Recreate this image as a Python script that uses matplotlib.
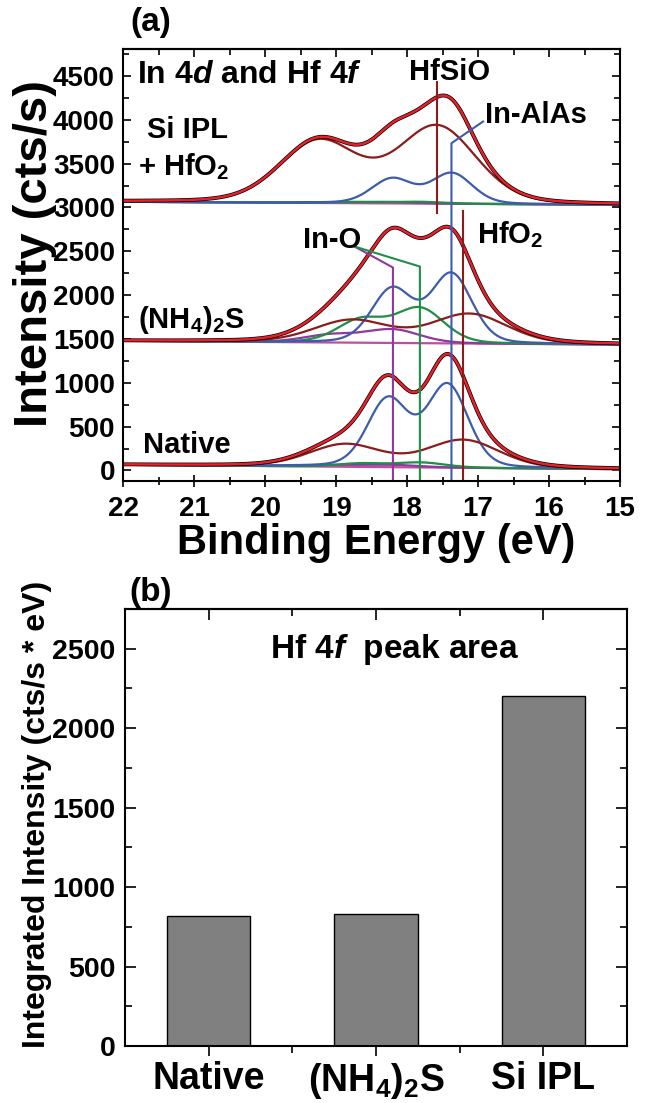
import numpy as np
import matplotlib.pyplot as plt

plt.rcParams['font.family'] = ['Liberation Sans', 'DejaVu Sans']
plt.rcParams['font.weight'] = 'bold'
plt.rcParams['axes.labelweight'] = 'bold'
plt.rcParams['mathtext.fontset'] = 'custom'
plt.rcParams['mathtext.rm'] = 'Liberation Sans:bold'
plt.rcParams['mathtext.it'] = 'Liberation Sans:bold:italic'
plt.rcParams['mathtext.bf'] = 'Liberation Sans:bold'
plt.rcParams['mathtext.default'] = 'rm'
plt.rcParams['axes.linewidth'] = 1.5

# ---------------------------------------------------------
# (a) In 4d / Hf 4f spectra
# ---------------------------------------------------------

# background level at 22 eV and at 15 eV
bkg_native = [65, 15]
bkg_nh4s = [1478, 1435]
bkg_sipl = [3065, 3030]

# fitted doublets: (binding energy eV, height above background, FWHM eV)
native_inalas = [(17.43, 935, 0.68), (18.27, 770, 0.68)]
native_ino_1 = [(18.20, 25, 0.9), (19.05, 18, 0.9)]
native_ino_2 = [(17.80, 55, 0.8), (18.64, 40, 0.8)]
native_hf = [(17.21, 315, 1.2), (18.87, 255, 1.2)]

nh4s_inalas = [(17.375, 785, 0.68), (18.21, 610, 0.68)]
nh4s_ino_1 = [(18.20, 150, 0.9), (19.07, 85, 0.9)]
nh4s_ino_2 = [(17.82, 390, 0.8), (18.64, 260, 0.8)]
nh4s_hf = [(17.12, 335, 1.25), (18.78, 255, 1.25)]

sipl_inalas = [(17.37, 345, 0.68), (18.21, 280, 0.68)]
sipl_ino_1 = [(18.20, 15, 0.9), (19.05, 10, 0.9)]
sipl_ino_2 = [(17.80, 20, 0.8), (18.64, 15, 0.8)]
sipl_hf = [(17.58, 875, 1.3), (19.24, 700, 1.3)]

# ---------------------------------------------------------
# (b) Hf 4f peak area
# ---------------------------------------------------------
samples = ['Native', '(NH$_4$)$_2$S', 'Si IPL']
hf_area = [815, 832, 2200]

# colours
c_red = '#e8202a'
c_dred = '#8a1c1c'
c_blue = '#3d5cad'
c_green = '#1f8f45'
c_purple = '#8c3a9c'
c_bkg = '#c04d9e'

be = np.linspace(15, 22, 701)


def doublet(peaks):
    y = np.zeros_like(be)
    for pos, h, fwhm in peaks:
        s = fwhm / 2.3548
        g = np.exp(-(be - pos) ** 2 / (2 * s ** 2))
        lor = 1 / (1 + ((be - pos) / (fwhm / 2)) ** 2)
        y += h * (0.8 * g + 0.2 * lor)
    return y


spectra = [
    (bkg_native, [native_ino_1, native_ino_2, native_inalas, native_hf]),
    (bkg_nh4s, [nh4s_ino_1, nh4s_ino_2, nh4s_inalas, nh4s_hf]),
    (bkg_sipl, [sipl_ino_1, sipl_ino_2, sipl_inalas, sipl_hf]),
]
comp_colors = [c_purple, c_green, c_blue, c_dred]

fig = plt.figure(figsize=(6.52, 11.03), dpi=100)
ax = fig.add_axes([0.1891, 0.5639, 0.7618, 0.3919])

for bkg, comps in spectra:
    base = np.interp(be, [15, 22], [bkg[1], bkg[0]])
    total = base.copy()
    ax.plot(be, base, color=c_bkg, lw=1.6)
    for peaks, col in zip(comps, comp_colors):
        y = doublet(peaks)
        total += y
        ax.plot(be, base + y, color=col, lw=1.6)
    ax.plot(be, total, color='black', lw=2.8)
    ax.plot(be, total, color=c_red, lw=1.8)

ymin, ymax = -120, 4810

# marker lines for the component positions
ax.plot([sipl_hf[0][0]] * 2, [4436, 2935], color=c_dred, lw=1.5)
ax.plot([16.93, nh4s_inalas[0][0], nh4s_inalas[0][0]], [3980, 3733, ymin],
        color=c_blue, lw=1.5)
ax.plot([native_hf[0][0]] * 2, [2961, ymin], color=c_dred, lw=1.5)
ax.plot([18.74, nh4s_ino_1[0][0], nh4s_ino_1[0][0]], [2554, 2315, ymin],
        color=c_purple, lw=1.5)
ax.plot([18.74, nh4s_ino_2[0][0], nh4s_ino_2[0][0]], [2554, 2326, ymin],
        color=c_green, lw=1.5)

fs = 21
ax.text(21.81, 4424, r'In 4$\mathit{d}$ and Hf 4$\mathit{f}$', fontsize=23, ha='left', va='baseline')
ax.text(21.09, 3790, 'Si IPL', fontsize=fs, ha='center', va='baseline')
ax.text(21.15, 3372, '+ HfO$_2$', fontsize=fs, ha='center', va='baseline')
ax.text(21.79, 1624, '(NH$_4$)$_2$S', fontsize=fs, ha='left', va='baseline')
ax.text(21.72, 198, 'Native', fontsize=fs, ha='left', va='baseline')
ax.text(17.40, 4455, 'HfSiO', fontsize=fs, ha='center', va='baseline')
ax.text(16.90, 3961, 'In-AlAs', fontsize=fs, ha='left', va='baseline')
ax.text(17.02, 2593, 'HfO$_2$', fontsize=fs, ha='left', va='baseline')
ax.text(18.64, 2536, 'In-O', fontsize=fs, ha='right', va='baseline')

ax.set_xlim(22, 15)
ax.set_ylim(ymin, ymax)
ax.set_xticks(np.arange(15, 23, 1))
ax.set_xticks(np.arange(15, 22.5, 0.5), minor=True)
ax.set_yticks(np.arange(0, 5000, 500))
ax.set_yticks(np.arange(0, 4800, 250), minor=True)
ax.tick_params(axis='x', which='both', direction='inout', labelsize=20, pad=6)
ax.tick_params(axis='x', which='major', length=9, width=1.2)
ax.tick_params(axis='x', which='minor', length=6, width=1.2)
ax.tick_params(axis='y', which='both', direction='in', right=True, labelsize=20, pad=6)
ax.tick_params(axis='y', which='major', length=6, width=1.2)
ax.tick_params(axis='y', which='minor', length=4, width=1.2)
top = ax.secondary_xaxis('top')
top.set_xticks(np.arange(15, 23, 1))
top.set_xticks(np.arange(15, 22.5, 0.5), minor=True)
top.tick_params(which='both', direction='in', labeltop=False, width=1.2)
top.tick_params(which='major', length=6)
top.tick_params(which='minor', length=4)

ax.set_xlabel('Binding Energy (eV)', fontsize=30)
ax.xaxis.label.set_va('center')
ax.xaxis.set_label_coords(0.509, -0.143)
ax.set_ylabel('Intensity (cts/s)', fontsize=34)
ax.yaxis.label.set_va('center')
ax.yaxis.set_label_coords(-0.178, 0.527)

# ---------------------------------------------------------
# (b) bar chart
# ---------------------------------------------------------
ax2 = fig.add_axes([0.1917, 0.0517, 0.770, 0.3962])
xpos = np.arange(len(samples))
ax2.bar(xpos, hf_area, width=0.5, color='#808080', edgecolor='black', lw=1.0)
ax2.set_xlim(-0.5, 2.5)
ax2.set_ylim(0, 2750)
ax2.set_xticks(xpos)
ax2.set_xticklabels(samples)
ax2.set_xticks([0.5, 1.5], minor=True)
ax2.set_yticks(np.arange(0, 3000, 500))
ax2.set_yticks(np.arange(0, 2750, 250), minor=True)
ax2.tick_params(axis='x', which='both', direction='out', labelsize=27, pad=4, width=1.2)
ax2.tick_params(axis='x', which='major', length=7)
ax2.tick_params(axis='x', which='minor', length=5)
ax2.tick_params(axis='y', which='both', direction='in', right=True, labelsize=20.5, pad=7, width=1.2)
ax2.tick_params(axis='y', which='major', length=8)
ax2.tick_params(axis='y', which='minor', length=5)
top2 = ax2.secondary_xaxis('top')
top2.set_xticks(xpos)
top2.set_xticks([0.5, 1.5], minor=True)
top2.tick_params(which='both', direction='in', labeltop=False, width=1.2)
top2.tick_params(which='major', length=8)
top2.tick_params(which='minor', length=5)

ax2.text(1.108, 2494, r'Hf 4$\mathit{f}$  peak area', fontsize=24, ha='center', va='center')
ax2.set_ylabel('Integrated Intensity (cts/s * eV)', fontsize=23)
ax2.yaxis.label.set_va('center')
ax2.yaxis.set_label_coords(-0.175, 0.531)

fig.text(151 / 652, 1 - 22 / 1103, '(a)', fontsize=24, ha='center', va='center')
fig.text(151 / 652, 1 - 592 / 1103, '(b)', fontsize=24, ha='center', va='center')

fig.savefig('out.png', dpi=100)
